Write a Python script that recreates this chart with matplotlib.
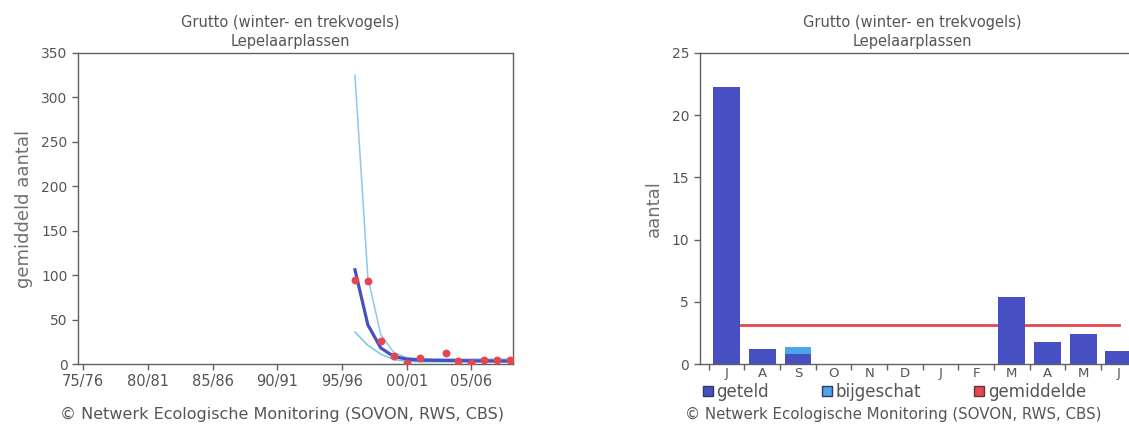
import numpy as np
import matplotlib.pyplot as plt
from matplotlib.patches import Patch

# jaargemiddelden (seizoen 96/97 = 1996)
seasons = [1996, 1997, 1998, 1999, 2000, 2001, 2003, 2004, 2005, 2006, 2007, 2008]
counted = [94, 93, 26, 9, 1.5, 6.5, 12, 3.4, 1.5, 4.2, 4.2, 4.2]

trend_years = [1996, 1997, 1998, 1999, 2000, 2001, 2002, 2003, 2004, 2005, 2006, 2007, 2008]
trend = [106, 44, 18, 8.5, 5.5, 4.5, 4.2, 4.0, 3.8, 3.6, 3.5, 3.4, 3.3]
upper = [325, 97, 33, 13, 7, 6, 5.5, 5.5, 5.5, 5.5, 5.5, 5.5, 5.5]
lower = [36, 21, 11, 5, 3, 2.5, 2.5, 2.5, 2.5, 2.5, 2.5, 2.5, 2.5]

year_ticks = [1975, 1980, 1985, 1990, 1995, 2000, 2005]
year_labels = ['%02d/%02d' % (y % 100, (y + 1) % 100) for y in year_ticks]

# seizoensverloop
months = ['J', 'A', 'S', 'O', 'N', 'D', 'J', 'F', 'M', 'A', 'M', 'J']
geteld = [22.3, 1.2, 0.8, 0, 0, 0, 0, 0, 5.4, 1.8, 2.45, 1.05]
bijgeschat = [0, 0, 0.6, 0, 0, 0, 0, 0, 0, 0, 0, 0]
gemiddelde = 3.1

title = 'Grutto (winter- en trekvogels)\nLepelaarplassen'
credit = '\u00a9 Netwerk Ecologische Monitoring (SOVON, RWS, CBS)'

txt = '#555555'
spine = '#606060'
dark_blue = '#4650c2'
light_blue = '#4aa6e6'
red = '#e5464f'

fig = plt.figure(figsize=(11.29, 4.24), dpi=100)

def style_axes(ax):
    for s in ax.spines.values():
        s.set_color(spine)
        s.set_linewidth(1)
    ax.tick_params(colors=spine, labelcolor=txt, length=4, width=1, labelsize=10)

# ---- links: trend ----
ax1 = fig.add_axes([0.0691, 0.1415, 0.3857, 0.7335])
ax1.plot(trend_years, upper, color='#8ec6ee', lw=1.1, zorder=2)
ax1.plot(trend_years, lower, color='#70c8d8', lw=1.1, zorder=2)
ax1.plot(trend_years, trend, color=dark_blue, lw=2.3, zorder=3)
ax1.scatter(seasons, counted, s=32, color=red, zorder=4, linewidths=0)
ax1.set_xlim(1974.6, 2008.25)
ax1.set_ylim(0, 350)
ax1.set_yticks(np.arange(0, 351, 50))
ax1.set_xticks(year_ticks)
ax1.set_xticklabels(year_labels)
style_axes(ax1)
ax1.tick_params(axis='x', labelsize=10.5, pad=3)
ax1.set_ylabel('gemiddeld aantal', fontsize=13, color='#707070', labelpad=6)

# ---- rechts: seizoen ----
ax2 = fig.add_axes([0.6196, 0.1415, 0.3954, 0.7335])
x = np.arange(len(months))
ax2.plot([x[0], x[-1]], [gemiddelde, gemiddelde], color=red, lw=2, zorder=1)
ax2.bar(x, geteld, width=0.75, color=dark_blue, zorder=2)
ax2.bar(x, bijgeschat, width=0.75, bottom=geteld, color=light_blue, zorder=2)
ax2.set_xlim(-0.76, 11.76)
ax2.set_ylim(0, 25)
ax2.set_yticks(np.arange(0, 26, 5))
style_axes(ax2)
ax2.set_xticks(x - 0.5)
ax2.set_xticklabels([])
ax2.set_xticks(x, minor=True)
ax2.set_xticklabels(months, minor=True)
ax2.tick_params(axis='x', which='minor', length=0, labelsize=9.5, pad=2, labelcolor=txt)
ax2.set_ylabel('aantal', fontsize=13, color='#707070', labelpad=6.5)

handles = [Patch(facecolor=dark_blue, edgecolor='#333366', label='geteld'),
           Patch(facecolor=light_blue, edgecolor='#333366', label='bijgeschat'),
           Patch(facecolor=red, edgecolor='#663333', label='gemiddelde')]
fig.legend(handles=handles, loc='center left', bbox_to_anchor=(703 / 1129, 1 - 392 / 424),
           ncol=3, frameon=False, fontsize=12, borderpad=0, borderaxespad=0,
           handlelength=0.6, handleheight=0.6, handletextpad=0.2, columnspacing=3.2,
           labelcolor=txt)

# titels en bronvermelding
fig.text(290 / 1129, 1 - 32 / 424, title, ha='center', va='center', fontsize=10.5,
         color=txt, linespacing=1.3)
fig.text(912 / 1129, 1 - 32 / 424, title, ha='center', va='center', fontsize=10.5,
         color=txt, linespacing=1.3)
fig.text(60 / 1129, 1 - 414 / 424, credit, ha='left', va='center', fontsize=11.5, color=txt)
fig.text(685 / 1129, 1 - 414 / 424, credit, ha='left', va='center', fontsize=10.8, color=txt)

fig.savefig('out.png', dpi=100)
